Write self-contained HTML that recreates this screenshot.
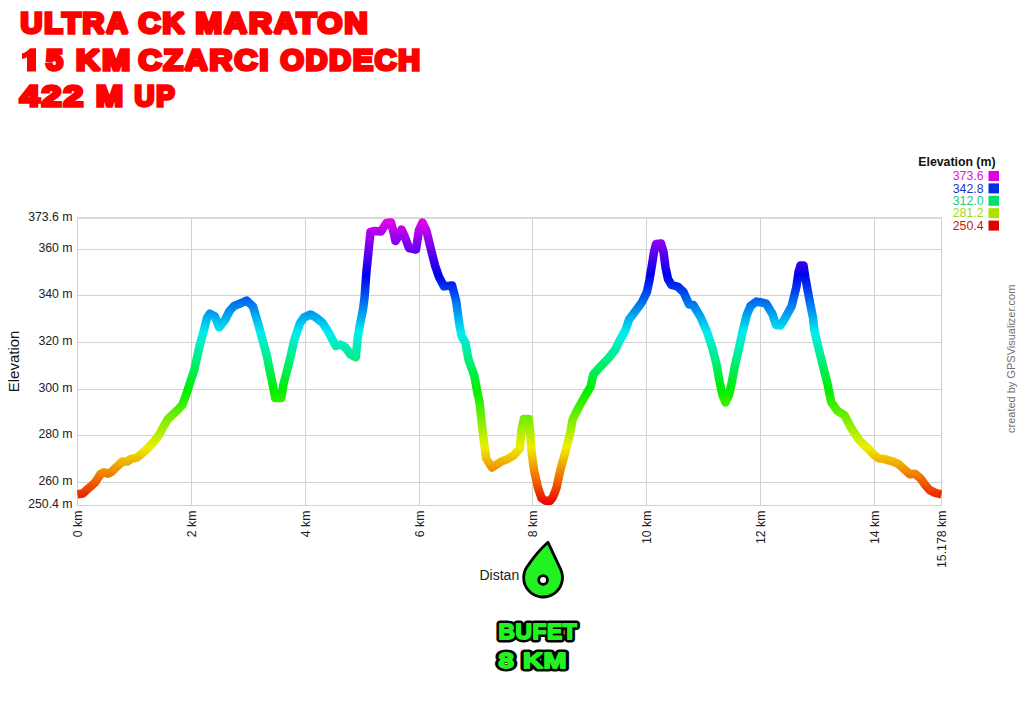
<!DOCTYPE html>
<html><head><meta charset="utf-8"><style>
html,body{margin:0;padding:0;background:#fff;width:1024px;height:723px;overflow:hidden}
svg{display:block;font-family:"Liberation Sans",sans-serif}
</style></head><body>
<svg width="1024" height="723" viewBox="0 0 1024 723">
<defs>
<linearGradient id="hg" gradientUnits="userSpaceOnUse" x1="0" y1="504.9" x2="0" y2="217.8">
<stop offset="0" stop-color="#ee0000"/>
<stop offset="0.2" stop-color="#eeee00"/>
<stop offset="0.4" stop-color="#00ee00"/>
<stop offset="0.6" stop-color="#00eeee"/>
<stop offset="0.8" stop-color="#0000ee"/>
<stop offset="1" stop-color="#ee00ee"/>
</linearGradient>
<clipPath id="pc"><rect x="77" y="200" width="865" height="306"/></clipPath>
</defs>
<path fill="#ff0000" d="M27,71.4 L36,71.4 L36,48.2 L30,48.2 C27.8,50.8 25.2,52.6 22,53.6 L22,59 C24,58.6 25.6,58 27,57.3 Z"/><g fill="#ff0000" stroke="#ff0000" stroke-width="3.4" stroke-linejoin="miter" stroke-miterlimit="1.6" font-weight="bold" font-size="28.8"><text transform="translate(20.50,32.90) scale(1.0486,1)" letter-spacing="1.8">ULTRA</text><text transform="translate(138.50,32.90) scale(1.0581,1)" letter-spacing="1.8">CK</text><text transform="translate(195.50,32.90) scale(1.1071,1)" letter-spacing="1.8">MARATON</text><text transform="translate(46.00,69.90) scale(1.0569,1)" letter-spacing="1.8">5</text><text transform="translate(76.00,69.90) scale(1.1611,1)" letter-spacing="1.8">KM</text><text transform="translate(138.50,69.90) scale(1.1017,1)" letter-spacing="1.8">CZARCI</text><text transform="translate(280.50,69.90) scale(1.0433,1)" letter-spacing="1.8">ODDECH</text><text transform="translate(20.00,105.70) scale(1.2225,1)" letter-spacing="1.8">422</text><text transform="translate(96.00,105.70) scale(1.1226,1)" letter-spacing="1.8">M</text><text transform="translate(134.50,105.70) scale(0.9583,1)" letter-spacing="1.8">UP</text></g>
<g stroke="#d2d2d2" stroke-width="1" shape-rendering="crispEdges">
<line x1="191.5" y1="217.7" x2="191.5" y2="505.5"/><line x1="305.5" y1="217.7" x2="305.5" y2="505.5"/><line x1="419.5" y1="217.7" x2="419.5" y2="505.5"/><line x1="532.5" y1="217.7" x2="532.5" y2="505.5"/><line x1="646.5" y1="217.7" x2="646.5" y2="505.5"/><line x1="760.5" y1="217.7" x2="760.5" y2="505.5"/><line x1="874.5" y1="217.7" x2="874.5" y2="505.5"/><line x1="77.5" y1="249.5" x2="941.5" y2="249.5"/><line x1="77.5" y1="295.5" x2="941.5" y2="295.5"/><line x1="77.5" y1="342.5" x2="941.5" y2="342.5"/><line x1="77.5" y1="389.5" x2="941.5" y2="389.5"/><line x1="77.5" y1="435.5" x2="941.5" y2="435.5"/><line x1="77.5" y1="482.5" x2="941.5" y2="482.5"/>
<line x1="77.5" y1="217" x2="77.5" y2="506"/>
<line x1="941.5" y1="217" x2="941.5" y2="506"/>
<line x1="77" y1="505.5" x2="942" y2="505.5"/>
<line x1="77" y1="218" x2="942" y2="218" stroke-width="2" stroke="#dadada"/>
</g>
<path d="M77.4,494.3 L83.0,493.5 L87.6,489.0 L91.5,485.7 L95.3,482.3 L100.2,474.5 L104.0,472.3 L107.9,473.6 L111.8,471.6 L116.6,466.8 L122.4,461.5 L127.3,461.5 L131.1,458.8 L137.0,457.6 L142.8,452.7 L147.5,448.5 L153.7,441.9 L158.7,435.4 L162.4,428.5 L167.4,419.8 L172.4,414.8 L177.4,410.1 L182.3,404.9 L186.1,394.9 L190.1,382.5 L194.2,370.0 L197.6,355.0 L199.6,346.0 L203.7,331.1 L207.0,318.0 L209.9,313.7 L214.9,316.2 L219.2,327.4 L225.0,320.0 L229.5,311.0 L234.0,306.0 L241.0,303.3 L246.6,300.5 L253.0,306.5 L258.0,323.2 L262.5,339.8 L267.0,356.4 L269.6,370.0 L272.6,384.0 L275.2,398.0 L281.2,398.0 L283.5,384.0 L287.2,370.0 L290.6,356.4 L294.3,339.8 L300.0,323.2 L304.0,317.5 L310.7,314.5 L316.5,317.9 L322.5,322.8 L327.5,330.5 L332.0,338.7 L335.8,346.0 L340.7,344.6 L345.5,347.5 L350.4,354.5 L355.8,357.3 L357.6,338.7 L360.0,324.2 L363.0,309.7 L364.6,297.0 L366.4,272.2 L368.9,247.3 L370.5,232.0 L375.0,231.0 L381.0,231.5 L386.5,223.0 L391.0,222.5 L393.5,232.0 L395.5,241.0 L398.5,236.0 L401.5,229.5 L404.5,236.0 L409.0,248.0 L416.0,249.5 L419.0,230.0 L422.5,222.5 L426.5,231.0 L430.8,248.8 L435.0,265.3 L439.0,277.0 L444.0,286.4 L452.0,285.4 L456.1,300.5 L459.3,324.0 L461.5,335.8 L465.5,342.9 L468.4,359.3 L474.3,375.8 L477.8,394.6 L479.6,402.5 L481.5,421.1 L483.7,439.8 L486.2,458.5 L492.0,467.5 L496.0,465.0 L501.1,461.6 L507.4,459.1 L513.6,455.4 L519.8,448.5 L521.5,430.0 L523.8,419.0 L528.8,419.0 L530.0,430.0 L531.6,452.3 L534.2,471.0 L538.0,487.9 L541.5,498.0 L545.5,500.8 L550.0,500.8 L553.0,497.0 L556.5,487.9 L560.4,469.9 L565.4,451.9 L570.0,433.9 L572.6,419.6 L578.9,407.0 L586.1,394.4 L590.6,386.5 L593.4,374.3 L600.2,366.7 L607.8,359.1 L615.0,350.0 L619.5,340.9 L625.5,330.2 L629.0,319.6 L635.5,311.0 L641.6,302.8 L646.9,292.2 L649.5,279.8 L651.8,266.0 L654.0,252.0 L656.0,244.0 L661.0,243.5 L663.5,252.0 L665.5,267.3 L668.0,279.0 L671.5,285.0 L677.5,286.5 L683.5,292.0 L689.1,304.6 L693.3,305.0 L700.3,316.6 L706.9,331.5 L712.4,348.1 L716.6,364.7 L719.5,381.3 L722.5,395.0 L725.5,402.5 L729.0,395.0 L732.0,381.3 L735.1,364.7 L739.0,348.1 L742.6,331.5 L746.8,314.9 L750.5,306.0 L756.4,301.6 L760.0,302.2 L766.2,303.7 L772.4,314.0 L776.0,325.0 L780.5,325.5 L784.9,318.5 L791.7,306.0 L796.3,287.3 L798.6,272.0 L800.5,265.5 L803.5,265.5 L805.4,278.0 L809.4,299.8 L813.1,318.4 L814.3,330.0 L818.5,348.0 L823.0,366.0 L827.5,383.9 L831.1,401.9 L837.4,410.9 L844.6,415.4 L851.7,428.9 L858.9,439.7 L864.0,445.0 L870.0,450.3 L874.5,455.3 L879.0,458.4 L883.5,458.9 L888.0,460.2 L893.4,461.6 L898.8,464.3 L904.2,469.2 L909.6,474.2 L915.0,473.7 L920.4,478.2 L924.9,484.5 L929.4,489.9 L934.7,492.6 L941.5,494.4" clip-path="url(#pc)" fill="none" stroke="url(#hg)" stroke-width="8.5" stroke-linejoin="round" stroke-linecap="butt"/>
<g font-size="12.3" fill="#222">
<text x="72.6" y="220.6" text-anchor="end">373.6 m</text><text x="72.6" y="252.1" text-anchor="end">360 m</text><text x="72.6" y="298.1" text-anchor="end">340 m</text><text x="72.6" y="345.1" text-anchor="end">320 m</text><text x="72.6" y="392.1" text-anchor="end">300 m</text><text x="72.6" y="438.1" text-anchor="end">280 m</text><text x="72.6" y="485.1" text-anchor="end">260 m</text><text x="72.6" y="508.1" text-anchor="end">250.4 m</text>
<text transform="translate(82.1,510.6) rotate(-90)" text-anchor="end">0 km</text><text transform="translate(196.1,510.6) rotate(-90)" text-anchor="end">2 km</text><text transform="translate(310.1,510.6) rotate(-90)" text-anchor="end">4 km</text><text transform="translate(424.1,510.6) rotate(-90)" text-anchor="end">6 km</text><text transform="translate(537.1,510.6) rotate(-90)" text-anchor="end">8 km</text><text transform="translate(651.1,510.6) rotate(-90)" text-anchor="end">10 km</text><text transform="translate(765.1,510.6) rotate(-90)" text-anchor="end">12 km</text><text transform="translate(879.1,510.6) rotate(-90)" text-anchor="end">14 km</text><text transform="translate(946.1,510.6) rotate(-90)" text-anchor="end">15.178 km</text>
</g>
<text transform="translate(19.3,392.3) rotate(-90)" font-size="15" fill="#111">Elevation</text>
<text x="479.5" y="580" font-size="14" fill="#222">Distan</text>
<g font-size="12.3">
<text x="995.5" y="165.6" text-anchor="end" font-weight="bold" fill="#111">Elevation (m)</text>
<text x="983.5" y="180.2" text-anchor="end" fill="#d820d8">373.6</text>
<text x="983.5" y="192.6" text-anchor="end" fill="#1838c8">342.8</text>
<text x="983.5" y="204.9" text-anchor="end" fill="#18c880">312.0</text>
<text x="983.5" y="217.3" text-anchor="end" fill="#a0d818">281.2</text>
<text x="983.5" y="229.8" text-anchor="end" fill="#d01010">250.4</text>
<rect x="988.5" y="171" width="10.5" height="10" fill="#e000e0"/>
<rect x="988.5" y="183.4" width="10.5" height="10" fill="#0030e0"/>
<rect x="988.5" y="195.8" width="10.5" height="10" fill="#00e070"/>
<rect x="988.5" y="208.2" width="10.5" height="10" fill="#b0e000"/>
<rect x="988.5" y="220.6" width="10.5" height="10" fill="#e00000"/>
</g>
<text transform="translate(1014.5,433) rotate(-90)" font-size="11" fill="#707070">created by GPSVisualizer.com</text>
<g stroke="#000" stroke-width="2.8" fill="#22f222" stroke-linejoin="round">
<path d="M548,542.3 L560.67,569.38 A19.4,19.4 0 1 1 528.43,564.9 Q537.5,551.5 548,542.3 Z"/>
<circle cx="543.1" cy="580" r="4.4" fill="#fff"/>
</g>
<g font-weight="bold" font-size="22.0" fill="#000" stroke="#000" stroke-width="7.0" stroke-linejoin="round"><text transform="translate(498.50,639.40) scale(1.0323,1)" letter-spacing="0.6">BUFET</text><text transform="translate(498.50,667.70) scale(1.2520,1)" letter-spacing="0.6">8 KM</text></g><g font-weight="bold" font-size="22.0" fill="#22f222" stroke="#22f222" stroke-width="1.8" stroke-linejoin="round"><text transform="translate(498.50,639.40) scale(1.0323,1)" letter-spacing="0.6">BUFET</text><text transform="translate(498.50,667.70) scale(1.2520,1)" letter-spacing="0.6">8 KM</text></g>
</svg>
</body></html>
